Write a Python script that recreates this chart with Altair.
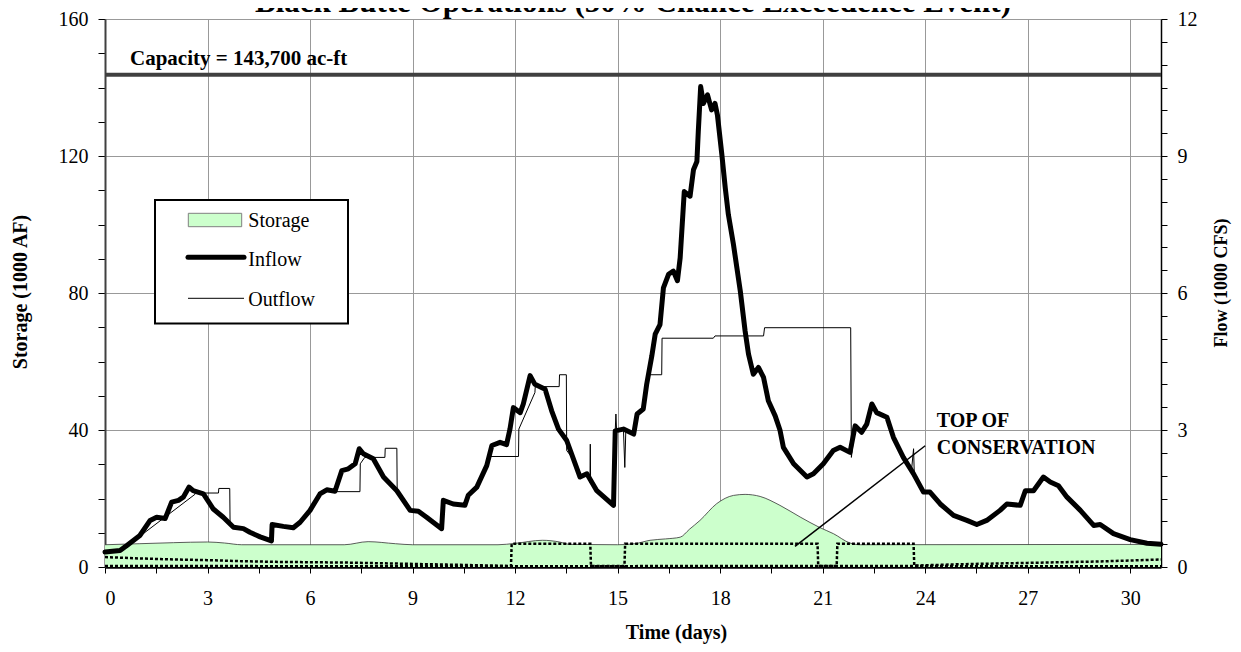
import altair as alt
import pandas as pd

FONT = "Liberation Serif"

# ---------------- data ----------------
inflow_day = [0, 0.44, 0.64, 1.02, 1.32, 1.51, 1.76, 1.95, 2.15, 2.29, 2.46, 2.58, 2.88, 3.17, 3.46,
              3.76, 4.05, 4.24, 4.54, 4.87, 4.89, 5.22, 5.51, 5.71, 6.0, 6.29, 6.49, 6.73, 6.93, 7.12,
              7.32, 7.44, 7.56, 7.85, 8.15, 8.54, 8.93, 9.17, 9.41, 9.85, 9.90, 10.19, 10.53, 10.63,
              10.88, 11.17, 11.32, 11.56, 11.75, 11.85, 11.95, 12.15, 12.24, 12.44, 12.58, 12.88,
              13.07, 13.27, 13.51, 13.90, 14.10, 14.39, 14.88, 14.93, 15.17, 15.47, 15.57, 15.75,
              15.85, 16.0, 16.10, 16.24, 16.34, 16.49, 16.63, 16.75, 16.83, 16.95, 17.12, 17.22,
              17.32, 17.36, 17.43, 17.51, 17.63, 17.75, 17.85, 17.92, 18.05, 18.15, 18.24, 18.39,
              18.49, 18.59, 18.73, 18.83, 18.97, 19.12, 19.27, 19.41, 19.61, 19.75, 19.85, 20.15,
              20.54, 20.73, 21.02, 21.31, 21.51, 21.80, 21.95, 22.14, 22.29, 22.44, 22.58, 22.88,
              23.07, 23.36, 23.66, 23.95, 24.14, 24.44, 24.83, 25.22, 25.51, 25.80, 26.19, 26.39,
              26.78, 26.93, 27.17, 27.46, 27.66, 27.90, 28.15, 28.54, 28.93, 29.12, 29.51, 30.0,
              30.49, 30.9]
inflow_kcfs = [0.33, 0.36, 0.47, 0.69, 1.02, 1.09, 1.06, 1.42, 1.46, 1.53, 1.75, 1.67, 1.60, 1.27, 1.09,
               0.87, 0.84, 0.76, 0.66, 0.57, 0.93, 0.89, 0.86, 0.98, 1.24, 1.60, 1.69, 1.66, 2.11, 2.15,
               2.26, 2.59, 2.48, 2.37, 1.97, 1.67, 1.24, 1.22, 1.09, 0.84, 1.46, 1.38, 1.35, 1.57,
               1.75, 2.22, 2.66, 2.73, 2.68, 3.02, 3.49, 3.38, 3.57, 4.19, 4.00, 3.89,
               3.42, 3.02, 2.77, 1.97, 2.04, 1.67, 1.35, 2.98, 3.02, 2.91, 3.35, 3.46,
               4.00, 4.62, 5.10, 5.31, 6.11, 6.41, 6.48, 6.27, 6.77, 8.22, 8.12, 8.70,
               8.88, 9.53, 10.52, 10.15, 10.34, 10.01, 10.15, 9.90, 9.03, 8.30, 7.72, 7.06,
               6.55, 6.04, 5.17, 4.66, 4.22, 4.37, 4.15, 3.64, 3.31, 3.00, 2.62, 2.26,
               1.97, 2.04, 2.26, 2.55, 2.62, 2.51, 3.09, 2.95, 3.13, 3.57, 3.38, 3.28,
               2.84, 2.40, 2.04, 1.64, 1.64, 1.38, 1.13, 1.02, 0.93, 1.02, 1.24, 1.38,
               1.35, 1.67, 1.67, 1.97, 1.86, 1.78, 1.53, 1.24, 0.91, 0.93, 0.73, 0.60,
               0.52, 0.50]

outflow_day = [0, 0.44, 0.54, 2.63, 2.64, 3.32, 3.33, 3.65, 3.66, 3.76, 4.05, 4.24, 4.54, 4.87, 4.89,
               5.22, 5.51, 5.71, 6.0, 6.29, 6.45, 7.46, 7.47, 7.60, 8.19, 8.20, 8.54, 8.55, 8.93,
               9.17, 9.41, 9.85, 9.90, 10.19, 10.53, 10.63, 10.88, 11.17, 11.22, 12.10, 12.11,
               12.58, 12.59, 13.29, 13.30, 13.50, 13.51, 13.70, 13.90, 14.10, 14.19, 14.20, 14.21,
               14.39, 14.88, 14.93, 14.95, 14.97, 15.17, 15.21, 15.24, 15.47, 15.57, 15.75, 15.85,
               15.90, 16.29, 16.30, 17.80, 17.85, 19.27, 19.30, 21.82, 21.84, 21.95, 22.14, 22.29,
               22.44, 22.58, 22.88, 23.07, 23.36, 23.60, 23.66, 23.68, 23.95, 24.14, 24.44, 24.83,
               25.22, 25.51, 25.80, 26.19, 26.39, 26.78, 26.93, 27.17, 27.46, 27.66, 27.90, 28.15,
               28.54, 28.93, 29.12, 29.51, 30.0, 30.49, 30.9]
outflow_kcfs = [0.33, 0.36, 0.40, 1.59, 1.62, 1.62, 1.72, 1.72, 0.95, 0.87, 0.84, 0.76, 0.66, 0.57, 0.93,
                0.89, 0.86, 0.98, 1.24, 1.60, 1.65, 1.65, 2.26, 2.40, 2.40, 2.60, 2.60, 1.65, 1.24,
                1.22, 1.09, 0.84, 1.46, 1.38, 1.35, 1.57, 1.75, 2.22, 2.42, 2.42, 3.02,
                3.82, 3.95, 3.95, 4.21, 4.21, 2.55, 2.37, 1.97, 2.04, 1.85, 2.69, 1.83,
                1.67, 1.35, 2.98, 3.35, 2.98, 3.02, 2.18, 3.00, 2.91, 3.35, 3.46, 4.00,
                4.21, 4.21, 5.01, 5.01, 5.06, 5.06, 5.24, 5.24, 2.40, 3.09, 2.95, 3.13,
                3.57, 3.38, 3.28, 2.84, 2.40, 2.12, 2.59, 2.06, 1.64, 1.64, 1.38, 1.13,
                1.02, 0.93, 1.02, 1.24, 1.38, 1.35, 1.67, 1.67, 1.97, 1.86, 1.78, 1.53,
                1.24, 0.91, 0.93, 0.73, 0.60, 0.52, 0.50]

storage_day = [0, 1, 2, 3, 3.5, 4, 7, 7.7, 8.5, 9, 11.5, 12, 12.8, 13.3, 13.6, 15, 15.5, 15.95,
               16.4, 16.83, 17.1, 17.41, 17.9, 18.39, 18.73, 19.17, 19.75, 20.34, 20.92, 21.32,
               21.8, 22.1, 30.9]
storage_kaf = [6.5, 6.8, 7.1, 7.3, 7.0, 6.5, 6.5, 7.4, 6.8, 6.5, 6.5, 6.9, 7.8, 7.3, 6.6, 6.5, 6.8, 7.8,
               8.2, 8.7, 11.0, 13.6, 18.5, 20.9, 21.2, 20.6, 18.0, 14.6, 11.5, 9.7,
               7.0, 6.5, 6.6]

guide_a_day = [0, 1, 2, 3, 4, 5, 6, 7, 8, 9, 10, 11, 11.88, 11.9, 14.2, 14.22, 15.2, 15.22, 20.85,
               20.87, 21.41, 21.43, 23.66, 23.68, 24, 25, 26, 27, 28, 29, 30, 30.9]
guide_a_kaf = [2.9, 2.5, 2.2, 2.0, 1.7, 1.5, 1.4, 1.3, 1.1, 0.9, 0.7, 0.5, 0.3, 6.8, 6.8, 0.3, 0.3, 6.8, 6.8,
               0.3, 0.3, 6.8, 6.8, 0.4, 0.5, 0.8, 1.0, 1.2, 1.4, 1.6, 1.9, 2.2]
guide_b_day = [0, 10, 20, 30.9]
guide_b_kaf = [0.3, 0.2, 0.3, 0.2]

capacity_kaf = [143.7]
pointer_day = [20.19, 24.0]
pointer_kaf = [6.0, 35.4]
note_day = [24.34, 24.34]
note_kaf = [40.8, 33.0]
note_text = ["TOP OF", "CONSERVATION"]

x_ticks = [i * 1.5 for i in range(21)]
left_ticks = list(range(0, 161, 10))
right_ticks = [i * 0.5 for i in range(25)]

X_DOMAIN = [0, 30.9]

# ---------------- frames ----------------
inflow_df = pd.DataFrame({"day": inflow_day, "kcfs": inflow_kcfs})
outflow_df = pd.DataFrame({"day": outflow_day, "kcfs": outflow_kcfs})
storage_df = pd.DataFrame({"day": storage_day, "kaf": storage_kaf})
guide_a_df = pd.DataFrame({"day": guide_a_day, "kaf": guide_a_kaf})
guide_b_df = pd.DataFrame({"day": guide_b_day, "kaf": guide_b_kaf})
cap_df = pd.DataFrame({"kaf": capacity_kaf})
pointer_df = pd.DataFrame({"day": pointer_day, "kaf": pointer_kaf})
note_df = pd.DataFrame({"day": note_day, "kaf": note_kaf, "t": note_text})
one = pd.DataFrame({"k": [0]})

xscale = alt.Scale(domain=X_DOMAIN, nice=False, zero=False)
lscale = alt.Scale(domain=[0, 160], nice=False)
rscale = alt.Scale(domain=[0, 12], nice=False)

x_axis = alt.Axis(
    values=x_ticks,
    labelExpr="datum.value % 3 === 0 ? format(datum.value, 'd') : ''",
    grid=True, gridColor="#999999", gridWidth=1,
    gridOpacity={"condition": {"test": "datum.value % 3 === 0", "value": 1}, "value": 0},
    tickColor="black", tickSize=6, tickWidth=1,
    domainColor="black", domainWidth=2.5,
    labelFont=FONT, labelFontSize=20, labelColor="black", labelPadding=15,
    title="Time (days)", titleFont=FONT, titleFontSize=20, titleFontWeight="bold",
    titleColor="black", titleX=571, titleY=71, titleAlign="center", titleBaseline="alphabetic",
)
left_axis = alt.Axis(
    orient="left", values=left_ticks,
    labelExpr="datum.value % 40 === 0 ? format(datum.value, 'd') : ''",
    grid=True, gridColor="#999999", gridWidth=1,
    gridOpacity={"condition": {"test": "datum.value % 40 === 0", "value": 1}, "value": 0},
    tickColor="black", tickSize=7, tickWidth=1,
    domainColor="#404040", domainWidth=2,
    labelFont=FONT, labelFontSize=20, labelColor="black", labelPadding=10,
    title="Storage (1000 AF)", titleFont=FONT, titleFontSize=20, titleFontWeight="bold",
    titleColor="black", titleAngle=270, titleX=-79, titleY=272.5, titleAlign="center",
    titleBaseline="alphabetic",
)
right_axis = alt.Axis(
    orient="right", values=right_ticks,
    labelExpr="datum.value % 3 === 0 ? format(datum.value, 'd') : ''",
    grid=False,
    tickColor="black", tickSize=6, tickWidth=1,
    domainColor="black", domainWidth=1.5,
    labelFont=FONT, labelFontSize=20, labelColor="black", labelPadding=10,
    title="Flow (1000 CFS)", titleFont=FONT, titleFontSize=18, titleFontWeight="bold",
    titleColor="black", titleAngle=270, titleX=65, titleY=263.5, titleAlign="center",
    titleBaseline="alphabetic",
)

X = alt.X("day:Q", scale=xscale, axis=x_axis)

storage_area = alt.Chart(storage_df).mark_area(color="#CCFFCC", interpolate="monotone").encode(
    x=X, y=alt.Y("kaf:Q", scale=lscale, axis=left_axis))
storage_edge = alt.Chart(storage_df).mark_line(color="#333333", strokeWidth=0.8, interpolate="monotone").encode(
    x=X, y=alt.Y("kaf:Q", scale=lscale, axis=None))
guide_a = alt.Chart(guide_a_df).mark_line(color="black", strokeWidth=2.5, strokeDash=[3, 2]).encode(
    x=X, y=alt.Y("kaf:Q", scale=lscale, axis=None))
guide_b = alt.Chart(guide_b_df).mark_line(color="black", strokeWidth=2.5, strokeDash=[3, 2]).encode(
    x=X, y=alt.Y("kaf:Q", scale=lscale, axis=None))
capacity = alt.Chart(cap_df).mark_rule(color="#404040", strokeWidth=4).encode(
    y=alt.Y("kaf:Q", scale=lscale, axis=None))
pointer = alt.Chart(pointer_df).mark_line(color="black", strokeWidth=1.5).encode(
    x=X, y=alt.Y("kaf:Q", scale=lscale, axis=None))
notes = alt.Chart(note_df).mark_text(font=FONT, fontSize=20, fontWeight="bold", align="left",
                                     baseline="alphabetic", color="black").encode(
    x=X, y=alt.Y("kaf:Q", scale=lscale, axis=None), text="t:N")
cap_text = alt.Chart(one).mark_text(font=FONT, fontSize=21, fontWeight="bold", align="left",
                                    baseline="alphabetic", color="black").encode(
    x=alt.value(25), y=alt.value(46), text=alt.value("Capacity = 143,700 ac-ft"))

outflow = alt.Chart(outflow_df).mark_line(color="black", strokeWidth=1).encode(
    x=X, y=alt.Y("kcfs:Q", scale=rscale, axis=None))
inflow = alt.Chart(inflow_df).mark_line(color="black", strokeWidth=5, strokeJoin="round",
                                        strokeCap="round").encode(
    x=X, y=alt.Y("kcfs:Q", scale=rscale, axis=right_axis))

# legend (drawn in pixel space, inside the plot)
leg_box = alt.Chart(one).mark_rect(fill="white", stroke="black", strokeWidth=2).encode(
    x=alt.value(50), x2=alt.value(243), y=alt.value(181), y2=alt.value(304.5))
leg_sw = alt.Chart(one).mark_rect(fill="#CCFFCC", stroke="#808080", strokeWidth=1).encode(
    x=alt.value(83.3), x2=alt.value(136.7), y=alt.value(194.3), y2=alt.value(207.7))
leg_in = alt.Chart(one).mark_rule(color="black", strokeWidth=5, strokeCap="round").encode(
    x=alt.value(83), x2=alt.value(139), y=alt.value(238.3))
leg_out = alt.Chart(one).mark_rule(color="black", strokeWidth=1).encode(
    x=alt.value(83), x2=alt.value(139), y=alt.value(279.3))


def leg_label(txt, y):
    return alt.Chart(one).mark_text(font=FONT, fontSize=20, align="left", baseline="alphabetic",
                                    color="black").encode(
        x=alt.value(143.3), y=alt.value(y), text=alt.value(txt))


title = alt.Chart(one).mark_text(font=FONT, fontSize=31, fontWeight="bold", align="center",
                                 baseline="alphabetic", color="black").encode(
    x=alt.value(528), y=alt.value(-7),
    text=alt.value("Black Butte Operations (50% Chance Exceedence Event)"))

chart = alt.layer(
    storage_area, storage_edge, guide_b, guide_a, capacity, pointer, outflow, inflow,
    leg_box, leg_sw, leg_in, leg_out,
    leg_label("Storage", 207.7), leg_label("Inflow", 247), leg_label("Outflow", 287),
    notes, cap_text, title,
).resolve_scale(y="independent").properties(
    width=1056, height=548,
    autosize=alt.AutoSizeParams(type="none"),
    padding={"left": 97, "top": 11, "right": 72, "bottom": 77},
    background="white",
).configure_view(stroke=None)

chart.save("out.html", embed_options={"renderer": "svg", "actions": False})
